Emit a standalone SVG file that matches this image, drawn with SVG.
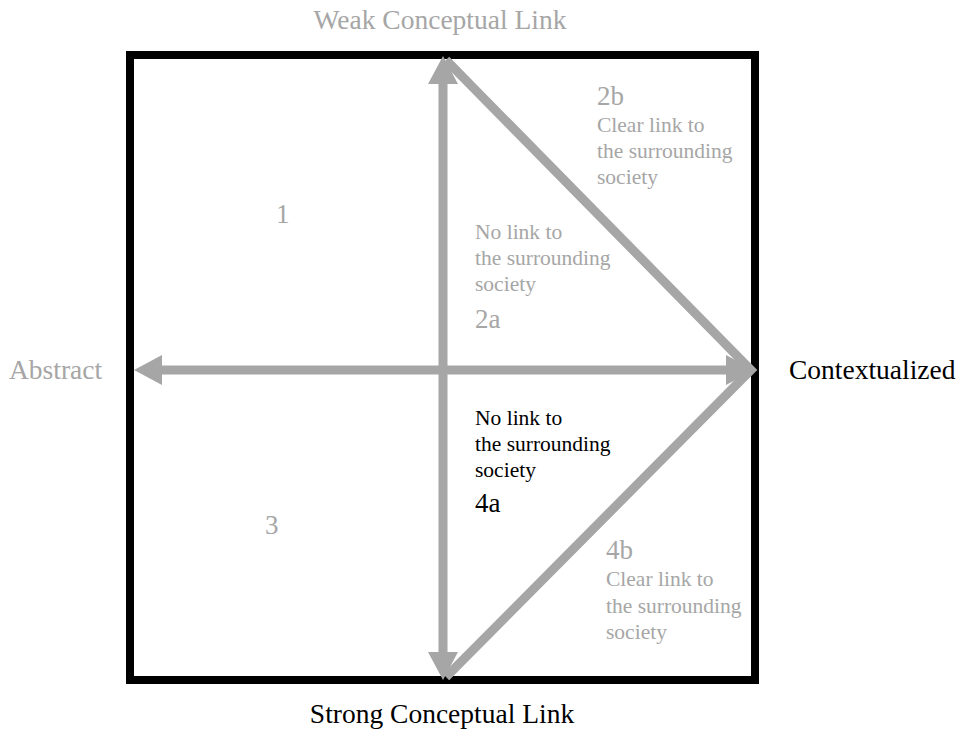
<svg xmlns="http://www.w3.org/2000/svg" width="967" height="733" viewBox="0 0 967 733">
  <style>
    text { font-family: "Liberation Serif", "Times New Roman", serif; }
    .axis { font-size: 27.5px; }
    .lbl { font-size: 21.5px; fill: #a6a6a6; }
    .dark { fill: #000000; }
    .num { font-size: 27px; }
    .arrow { stroke: #a6a6a6; stroke-width: 9; fill: none; }
    .head { fill: #a6a6a6; }
  </style>
  <rect x="0" y="0" width="967" height="733" fill="#ffffff"/>

  <g id="frame">
    <rect x="130" y="55" width="625" height="625" fill="none" stroke="#000000" stroke-width="8"/>
  </g>

  <g id="connectors">
    <!-- vertical axis -->
    <line class="arrow" x1="443" y1="82" x2="443" y2="654"/>
    <!-- horizontal axis -->
    <line class="arrow" x1="160" y1="370" x2="728" y2="370"/>
    <!-- triangle edges to the contextualized tip -->
    <polyline class="arrow" points="446,60 751,370 446,677"/>
    <!-- arrowheads -->
    <path class="head" d="M443,56 L428,84 L458,84 Z"/>
    <path class="head" d="M443,680 L428,652 L458,652 Z"/>
    <path class="head" d="M134,370 L162,355 L162,385 Z"/>
    <path class="head" d="M754,370 L726,355 L726,385 Z"/>
  </g>

  <g id="axis-top">
    <text class="axis" x="440" y="29" text-anchor="middle" fill="#a6a6a6">Weak Conceptual Link</text>
  </g>
  <g id="axis-bottom">
    <text class="axis" x="442" y="723" text-anchor="middle" fill="#000000">Strong Conceptual Link</text>
  </g>
  <g id="axis-left">
    <text class="axis" x="9" y="379" fill="#a6a6a6">Abstract</text>
  </g>
  <g id="axis-right">
    <text class="axis" x="789" y="379" fill="#000000">Contextualized</text>
  </g>

  <g id="q1">
    <text class="lbl num" x="276" y="223">1</text>
  </g>
  <g id="q3">
    <text class="lbl num" x="265" y="534">3</text>
  </g>

  <g id="q2a">
    <text class="lbl" x="475" y="239">No link  to</text>
    <text class="lbl" x="475" y="265">the surrounding</text>
    <text class="lbl" x="475" y="291">society</text>
    <text class="lbl num" x="475" y="328">2a</text>
  </g>

  <g id="q2b">
    <text class="lbl num" x="597" y="105">2b</text>
    <text class="lbl" x="597" y="132">Clear link  to</text>
    <text class="lbl" x="597" y="158">the surrounding</text>
    <text class="lbl" x="597" y="184">society</text>
  </g>

  <g id="q4a">
    <text class="lbl dark" x="475" y="425">No link  to</text>
    <text class="lbl dark" x="475" y="451">the surrounding</text>
    <text class="lbl dark" x="475" y="477">society</text>
    <text class="lbl num dark" x="475" y="512">4a</text>
  </g>

  <g id="q4b">
    <text class="lbl num" x="606" y="559">4b</text>
    <text class="lbl" x="606" y="586">Clear link  to</text>
    <text class="lbl" x="606" y="613">the surrounding</text>
    <text class="lbl" x="606" y="639">society</text>
  </g>
</svg>
